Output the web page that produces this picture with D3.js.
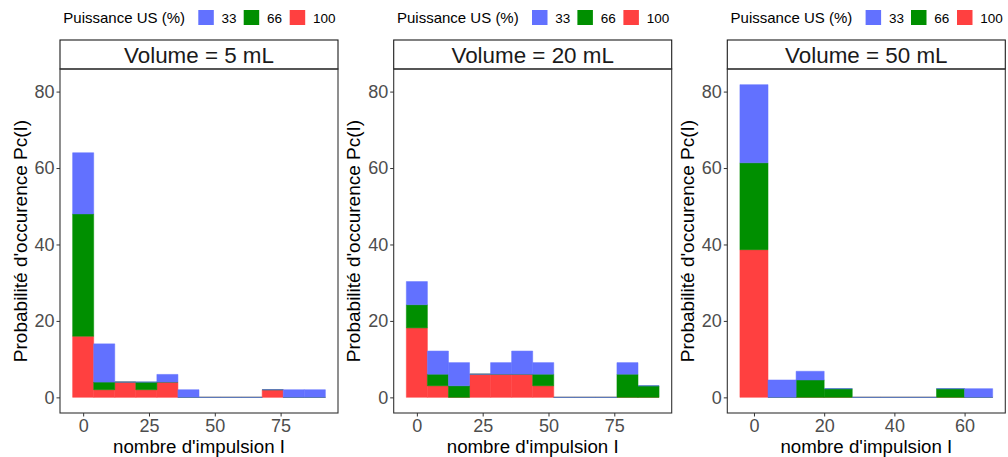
<!DOCTYPE html>
<html>
<head>
<meta charset="utf-8">
<script src="https://cdn.jsdelivr.net/npm/d3@7"></script>
<style>
  html, body { margin: 0; padding: 0; background: #fff; }
  svg { display: block; font-family: "Liberation Sans", Arial, Helvetica, sans-serif; }
</style>
</head>
<body>
<svg id="chart" width="1008" height="457"></svg>
<script>
// ---- data ----
const binWidth = 8;
const seriesNames = ["33", "66", "100"];
const legendTitle = "Puissance US (%)";
const yTitle = "Probabilité d'occurence Pc(I)";
const xTitle = "nombre d'impulsion I";
const yTicks = [0, 20, 40, 60, 80];

const vol5Label = "Volume = 5 mL";
const vol5Bins = [0, 8, 16, 24, 32, 40, 48, 56, 64, 72, 80, 88];
const vol5P33 = [16, 10, 0, 0, 2, 2, 0, 0, 0, 0, 2, 2];
const vol5P66 = [32, 2, 0, 2, 0, 0, 0, 0, 0, 0, 0, 0];
const vol5P100 = [16, 2, 4, 2, 4, 0, 0, 0, 0, 2, 0, 0];
const vol5XTicks = [0, 25, 50, 75];

const vol20Label = "Volume = 20 mL";
const vol20Bins = [0, 8, 16, 24, 32, 40, 48, 56, 64, 72, 80, 88];
const vol20P33 = [6.06, 6.06, 6.06, 0, 3.03, 6.06, 3.03, 0, 0, 0, 3.03, 0];
const vol20P66 = [6.06, 3.03, 3.03, 0, 0, 0, 3.03, 0, 0, 0, 6.06, 3.03];
const vol20P100 = [18.18, 3.03, 0, 6.06, 6.06, 6.06, 3.03, 0, 0, 0, 0, 0];
const vol20XTicks = [0, 25, 50, 75];

const vol50Label = "Volume = 50 mL";
const vol50Bins = [0, 8, 16, 24, 32, 40, 48, 56, 64];
const vol50P33 = [20.45, 4.55, 2.27, 0, 0, 0, 0, 0, 2.27];
const vol50P66 = [22.73, 0, 4.55, 2.27, 0, 0, 0, 2.27, 0];
const vol50P100 = [38.64, 0, 0, 0, 0, 0, 0, 0, 0];
const vol50XTicks = [0, 20, 40, 60];

const colors = { "33": "#6271ff", "66": "#008f00", "100": "#ff4040" };

const panels = [
  { label: vol5Label, bins: vol5Bins, s: { "33": vol5P33, "66": vol5P66, "100": vol5P100 }, ticks: vol5XTicks, left: 60 },
  { label: vol20Label, bins: vol20Bins, s: { "33": vol20P33, "66": vol20P66, "100": vol20P100 }, ticks: vol20XTicks, left: 393.7 },
  { label: vol50Label, bins: vol50Bins, s: { "33": vol50P33, "66": vol50P66, "100": vol50P100 }, ticks: vol50XTicks, left: 727.3 }
];

// ---- layout ----
const svg = d3.select("#chart");
const W = 278, stripTop = 40, plotTop = 69, plotBottom = 413;

// shared y scale
let maxY = 0;
panels.forEach(p => p.bins.forEach((b, i) => {
  maxY = Math.max(maxY, p.s["33"][i] + p.s["66"][i] + p.s["100"][i]);
}));
const yExp = maxY * 0.05;
const y = d3.scaleLinear().domain([-yExp, maxY + yExp]).range([plotBottom, plotTop]);

const stackOrder = ["100", "66", "33"]; // bottom to top

panels.forEach(p => {
  const L = p.left;
  const x0 = d3.min(p.bins) - binWidth / 2, x1 = d3.max(p.bins) + binWidth / 2;
  const ex = (x1 - x0) * 0.05;
  const x = d3.scaleLinear().domain([x0 - ex, x1 + ex]).range([L, L + W]);
  const g = svg.append("g");

  // legend
  const lg = g.append("g");
  lg.append("text").attr("x", L + 3.3).attr("y", 23).attr("font-size", 15).attr("fill", "#000").text(legendTitle);
  const keyX = [138.3, 183.7, 229.7];
  seriesNames.forEach((n, i) => {
    lg.append("rect").attr("x", L + keyX[i]).attr("y", 10).attr("width", 15.5).attr("height", 15)
      .attr("fill", colors[n]);
    lg.append("text").attr("x", L + keyX[i] + 23.3).attr("y", 23).attr("font-size", 13.5).attr("fill", "#000").text(n);
  });

  // strip
  g.append("rect").attr("x", L).attr("y", stripTop).attr("width", W).attr("height", plotTop - stripTop)
    .attr("fill", "#fff").attr("stroke", "#1a1a1a").attr("stroke-width", 1.1);
  g.append("text").attr("x", L + W / 2).attr("y", 62.5).attr("text-anchor", "middle")
    .attr("font-size", 22.4).attr("fill", "#1a1a1a").text(p.label);

  // bars (paths so zero-height bins still show their outline)
  const stacked = p.bins.map(() => 0);
  stackOrder.forEach(n => {
    const vals = p.s[n];
    const base = stacked.slice();
    g.append("g").selectAll("path").data(p.bins).join("path")
      .attr("d", (d, i) => {
        const xa = x(d - binWidth / 2), xb = x(d + binWidth / 2);
        const ya = y(base[i]), yb = y(base[i] + vals[i]);
        return `M${xa},${ya}H${xb}V${yb}H${xa}Z`;
      })
      .attr("fill", colors[n])
      .attr("stroke", colors[n])
      .attr("stroke-opacity", 0.5)
      .attr("stroke-width", 1);
    p.bins.forEach((d, i) => { stacked[i] += vals[i]; });
  });

  // panel border
  g.append("rect").attr("x", L).attr("y", plotTop).attr("width", W).attr("height", plotBottom - plotTop)
    .attr("fill", "none").attr("stroke", "#333").attr("stroke-width", 1.1);

  // y axis
  const ya = g.append("g").attr("transform", `translate(${L},0)`)
    .call(d3.axisLeft(y).tickValues(yTicks).tickSize(3.5).tickPadding(2).tickFormat(d3.format("d")));
  ya.select(".domain").remove();
  ya.selectAll("line").attr("stroke", "#333");
  ya.selectAll("text").attr("font-size", 18).attr("fill", "#4d4d4d").attr("font-family", "Liberation Sans, Arial, sans-serif");

  // x axis
  const xa = g.append("g").attr("transform", `translate(0,${plotBottom})`)
    .call(d3.axisBottom(x).tickValues(p.ticks).tickSize(3.5).tickPadding(3).tickFormat(d3.format("d")));
  xa.select(".domain").remove();
  xa.selectAll("line").attr("stroke", "#333");
  xa.selectAll("text").attr("font-size", 18).attr("fill", "#4d4d4d").attr("font-family", "Liberation Sans, Arial, sans-serif");

  // titles
  g.append("text").attr("x", L + W / 2).attr("y", 453).attr("text-anchor", "middle")
    .attr("font-size", 18.7).attr("fill", "#000").text(xTitle);
  g.append("text").attr("transform", `translate(${L - 33.5},${(plotTop + plotBottom) / 2}) rotate(-90)`)
    .attr("text-anchor", "middle").attr("font-size", 19).attr("fill", "#000").text(yTitle);
});
</script>
</body>
</html>
